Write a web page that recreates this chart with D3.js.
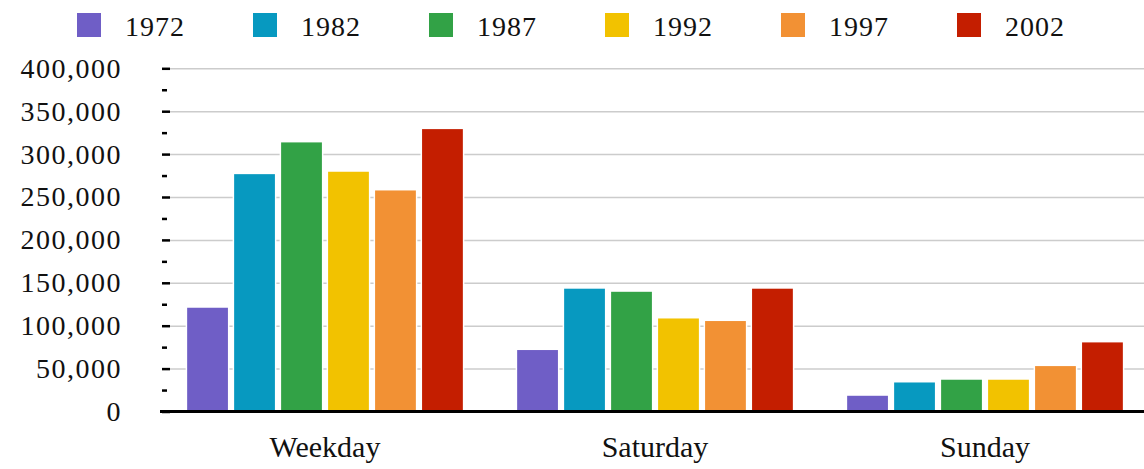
<!DOCTYPE html>
<meta charset="utf-8">
<style>
body { margin: 0; }
text {
  font-family: 'Liberation Serif', 'DejaVu Serif', serif;
  font-variant-numeric: oldstyle-nums;
  fill: #111;
}
.grid line { stroke: #cccccc; stroke-width: 1.5; }
.grid .domain { display: none; }
.axis--y .domain { display: none; }
.axis--y line { stroke: #000; stroke-width: 2.5; }
.axis--y text { font-size: 28px; letter-spacing: 1.5px; }
.axis--x .domain { display: none; }
.axis--x text { font-size: 30px; }
.baseline { stroke: #000; stroke-width: 3; }
.bar { stroke: #fff; stroke-width: 1.5; }
.legend text { font-size: 28px; letter-spacing: 1px; }
</style>
<svg width="1144" height="469"></svg>
<script src="https://cdnjs.cloudflare.com/ajax/libs/d3/7.8.5/d3.min.js"></script>
<script>

var days = ["Weekday", "Saturday", "Sunday"];
var years = ["1972", "1982", "1987", "1992", "1997", "2002"];
var colors = ["#6f5ec6", "#0799c0", "#32a246", "#f2c200", "#f29134", "#c41e00"];

// trips per day, one array per year (Weekday, Saturday, Sunday)
var v1972 = [121800, 72500, 19200];
var v1982 = [277500, 144000, 34700];
var v1987 = [314500, 140400, 37900];
var v1992 = [280300, 109300, 37900];
var v1997 = [258500, 106300, 53800];
var v2002 = [330000, 144000, 81400];
var seriesValues = [v1972, v1982, v1987, v1992, v1997, v2002];

var yTicks = [0, 50000, 100000, 150000, 200000, 250000, 300000, 350000, 400000];
var yMinorTicks = [25000, 75000, 125000, 175000, 225000, 275000, 325000, 375000];

var svg = d3.select("svg"),
    width = +svg.attr("width"),
    plotLeft = 160,
    gridLeft = 170;

var x0 = d3.scaleBand().domain(days).range([plotLeft, 1150])
    .paddingInner(0.16).paddingOuter(0.08);
var x1 = d3.scaleBand().domain(years).range([0, x0.bandwidth()]).paddingInner(0.1);
var y = d3.scaleLinear().domain([0, 400000]).range([411.5, 68.3]);
var color = d3.scaleOrdinal().domain(years).range(colors);

// gridlines
svg.append("g")
    .attr("class", "grid")
    .attr("transform", "translate(" + gridLeft + ",0)")
    .call(d3.axisRight(y).tickValues(yTicks.slice(1)).tickSize(width - gridLeft).tickFormat(""));

// y axis with major and minor ticks
svg.append("g")
    .attr("class", "axis axis--y")
    .attr("transform", "translate(" + gridLeft + ",0)")
    .call(d3.axisLeft(y).tickValues(yTicks).tickSize(8).tickPadding(40)
      .tickFormat(d3.format(",")));

svg.append("g")
    .attr("class", "axis axis--y")
    .attr("transform", "translate(" + (gridLeft - 3) + ",0)")
    .call(d3.axisLeft(y).tickValues(yMinorTicks).tickSize(5).tickFormat(""));

// bars
var rows = days.map(function(day, i) {
  return { day: day, values: years.map(function(yr, j) { return { year: yr, value: seriesValues[j][i] }; }) };
});

svg.append("g").selectAll("g")
  .data(rows)
  .enter().append("g")
    .attr("transform", function(d) { return "translate(" + x0(d.day) + ",0)"; })
  .selectAll("rect")
  .data(function(d) { return d.values; })
  .enter().append("rect")
    .attr("class", "bar")
    .attr("x", function(d) { return x1(d.year); })
    .attr("y", function(d) { return y(d.value); })
    .attr("width", x1.bandwidth())
    .attr("height", function(d) { return y(0) - y(d.value); })
    .attr("fill", function(d) { return color(d.year); });

// baseline
svg.append("line")
    .attr("class", "baseline")
    .attr("x1", plotLeft).attr("x2", width)
    .attr("y1", y(0)).attr("y2", y(0));

// x axis labels
svg.append("g")
    .attr("class", "axis axis--x")
    .attr("transform", "translate(0," + y(0) + ")")
    .call(d3.axisBottom(x0).tickSize(0).tickPadding(24));

// legend
var legendStep = 176;
var legend = svg.append("g")
    .attr("class", "legend")
    .attr("transform", "translate(77,13)")
  .selectAll("g")
  .data(years)
  .enter().append("g")
    .attr("transform", function(d, i) { return "translate(" + (i * legendStep) + ",0)"; });

legend.append("rect")
    .attr("width", 24).attr("height", 24)
    .attr("fill", function(d) { return color(d); });

legend.append("text")
    .attr("x", 48).attr("y", 23)
    .text(function(d) { return d; });

</script>
